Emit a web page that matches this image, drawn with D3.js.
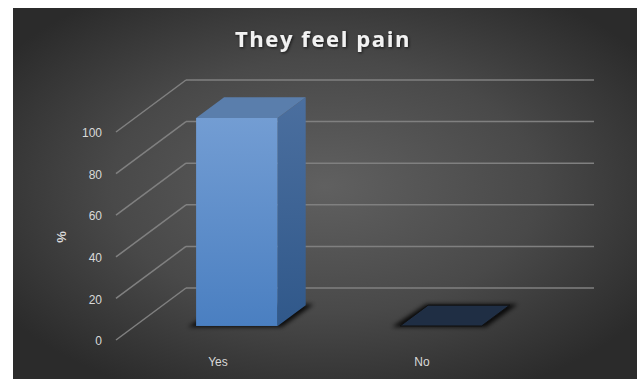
<!DOCTYPE html>
<html>
<head>
<meta charset="utf-8">
<script src="https://cdn.jsdelivr.net/npm/d3@7/dist/d3.min.js"></script>
<style>
  html, body { margin: 0; padding: 0; background: #ffffff; }
  svg { display: block; }
</style>
</head>
<body>
<svg id="chart" width="637" height="379"></svg>
<script>
// Chart data
const categories = ["Yes", "No"];
const values = [100, 0];
const yTicks = [0, 20, 40, 60, 80, 100];
const chartTitle = "They feel pain";
const yAxisTitle = "%";

const W = 637, H = 379;
const svg = d3.select("#chart");
const defs = svg.append("defs");

// Background panel gradient
const bg = defs.append("radialGradient").attr("id", "bgGrad")
  .attr("cx", "50%").attr("cy", "48%").attr("r", "62%");
bg.append("stop").attr("offset", "0%").attr("stop-color", "#606060");
bg.append("stop").attr("offset", "55%").attr("stop-color", "#494949");
bg.append("stop").attr("offset", "100%").attr("stop-color", "#2b2b2b");

const frontGrad = defs.append("linearGradient").attr("id", "frontGrad")
  .attr("x1", 0).attr("y1", 0).attr("x2", 0).attr("y2", 1);
frontGrad.append("stop").attr("offset", "0%").attr("stop-color", "#739dd3");
frontGrad.append("stop").attr("offset", "100%").attr("stop-color", "#4a7fc1");

const sideGrad = defs.append("linearGradient").attr("id", "sideGrad")
  .attr("x1", 0).attr("y1", 0).attr("x2", 0).attr("y2", 1);
sideGrad.append("stop").attr("offset", "0%").attr("stop-color", "#4b6f9f");
sideGrad.append("stop").attr("offset", "100%").attr("stop-color", "#30588a");

defs.append("filter").attr("id", "soft").attr("x", "-5%").attr("y", "-50%").attr("width", "110%").attr("height", "200%")
  .append("feGaussianBlur").attr("stdDeviation", 0.6);
defs.append("filter").attr("id", "shadow").attr("x", "-30%").attr("y", "-100%").attr("width", "160%").attr("height", "300%")
  .append("feGaussianBlur").attr("stdDeviation", 2.2);
const glow = defs.append("filter").attr("id", "titleGlow").attr("x", "-10%").attr("y", "-40%").attr("width", "120%").attr("height", "180%");
glow.append("feGaussianBlur").attr("in", "SourceAlpha").attr("stdDeviation", 1.6).attr("result", "b");
glow.append("feOffset").attr("in", "b").attr("dx", 0.5).attr("dy", 1).attr("result", "o");
glow.append("feComponentTransfer").attr("in", "o").attr("result", "s")
  .append("feFuncA").attr("type", "linear").attr("slope", 0.7);
const gm = glow.append("feMerge");
gm.append("feMergeNode").attr("in", "s");
gm.append("feMergeNode").attr("in", "SourceGraphic");

svg.append("rect").attr("x", 13).attr("y", 8).attr("width", W - 13).attr("height", H - 8)
  .attr("fill", "url(#bgGrad)");

// Front plane scales plus an oblique depth offset for the 3D look
const x = d3.scaleBand().domain(categories).range([116, 524]).padding(0);
const y = d3.scaleLinear().domain([0, 100]).range([340, 132]);
const depth = { dx: 70, dy: -52 };
const off = f => [depth.dx * f, depth.dy * f];
const barW = x.bandwidth() * 0.4;
const f0 = 0.27, f1 = 0.67;

// Walls: diagonals on the side wall and horizontal lines on the back wall
const grid = svg.append("g").attr("stroke", "#808080").attr("stroke-width", 1.5)
  .attr("fill", "none").attr("filter", "url(#soft)");
yTicks.forEach(v => {
  const [bx, by] = off(1);
  grid.append("line")
    .attr("x1", x.range()[0]).attr("y1", y(v))
    .attr("x2", x.range()[0] + bx).attr("y2", y(v) + by);
  grid.append("line")
    .attr("x1", x.range()[0] + bx).attr("y1", y(v) + by)
    .attr("x2", x.range()[1] + bx).attr("y2", y(v) + by);
});

// Bars
const bars = svg.append("g");
categories.forEach((c, i) => {
  const v = values[i];
  const cx = x(c) + x.bandwidth() / 2;
  const [ax, ay] = off(f0);
  const [bx, by] = off(f1);
  const xl = cx - barW / 2 + ax, xr = cx + barW / 2 + ax;
  const yb = y(0) + ay, yt = y(v) + ay;
  const ddx = bx - ax, ddy = by - ay;

  // base shadow
  bars.append("path")
    .attr("d", `M${xl - 8},${yb + 1} L${xr + 4},${yb + 1} L${xr + ddx + 8},${yb + ddy - 1} L${xl + ddx - 2},${yb + ddy - 1} Z`)
    .attr("fill", "#000").attr("opacity", 0.85).attr("filter", "url(#shadow)");

  if (v > 0) {
    bars.append("rect").attr("x", xl).attr("y", yt).attr("width", xr - xl).attr("height", yb - yt)
      .attr("fill", "url(#frontGrad)");
    bars.append("path")
      .attr("d", `M${xr},${yt} L${xr + ddx},${yt + ddy} L${xr + ddx},${yb + ddy} L${xr},${yb} Z`)
      .attr("fill", "url(#sideGrad)");
    bars.append("path")
      .attr("d", `M${xl},${yt} L${xr},${yt} L${xr + ddx},${yt + ddy} L${xl + ddx},${yt + ddy} Z`)
      .attr("fill", "#5a7eac");
  } else {
    bars.append("path")
      .attr("d", `M${xl},${yt} L${xr},${yt} L${xr + ddx},${yt + ddy} L${xl + ddx},${yt + ddy} Z`)
      .attr("fill", "#1f2e44").attr("stroke", "#111").attr("stroke-width", 1);
  }
});

// Value axis labels
const labelFont = "'Liberation Sans', Arial, sans-serif";
svg.append("g").selectAll("text").data(yTicks).join("text")
  .attr("x", 102).attr("y", d => y(d) + 2)
  .attr("text-anchor", "end").attr("dominant-baseline", "middle")
  .attr("font-family", labelFont).attr("font-size", 12).attr("fill", "#d9d9d9")
  .text(d => d);

// Category labels
svg.append("g").selectAll("text").data(categories).join("text")
  .attr("x", d => x(d) + x.bandwidth() / 2).attr("y", 363)
  .attr("text-anchor", "middle").attr("dominant-baseline", "middle")
  .attr("font-family", labelFont).attr("font-size", 12).attr("fill", "#d9d9d9")
  .text(d => d);

// Axis title
svg.append("text")
  .attr("transform", "translate(63,237) rotate(-90)")
  .attr("text-anchor", "middle").attr("dominant-baseline", "middle")
  .attr("font-family", labelFont).attr("font-size", 13).attr("font-weight", "bold").attr("fill", "#d9d9d9")
  .text(yAxisTitle);

// Chart title
svg.append("text")
  .attr("x", 323).attr("y", 47)
  .attr("text-anchor", "middle")
  .attr("letter-spacing", 1.6)
  .attr("font-family", "'Open Sans', sans-serif").attr("font-size", 22).attr("font-weight", "bold")
  .attr("fill", "#f2f2f2").attr("filter", "url(#titleGlow)")
  .text(chartTitle);
</script>
</body>
</html>
